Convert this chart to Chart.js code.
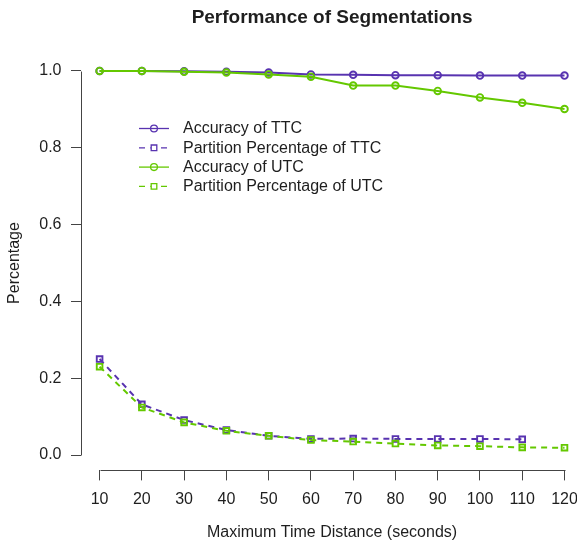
<!DOCTYPE html>
<html>
<head>
<meta charset="utf-8">
<script src="https://cdn.jsdelivr.net/npm/chart.js@4/dist/chart.umd.min.js"></script>
<style>
html,body{margin:0;padding:0;background:#fff;overflow:hidden;}
canvas{display:block;}
</style>
</head>
<body>
<canvas id="c" width="589" height="547"></canvas>
<script>
const distances = [10, 20, 30, 40, 50, 60, 70, 80, 90, 100, 110, 120];
const accuracyTTC = [1.000, 1.000, 0.999, 0.998, 0.996, 0.991, 0.990, 0.989, 0.989, 0.988, 0.988, 0.988];
const partitionTTC = [0.250, 0.132, 0.091, 0.065, 0.050, 0.042, 0.043, 0.042, 0.042, 0.042, 0.041];
const accuracyUTC = [1.000, 1.000, 0.998, 0.996, 0.991, 0.985, 0.962, 0.962, 0.948, 0.931, 0.917, 0.901];
const partitionUTC = [0.230, 0.124, 0.085, 0.063, 0.050, 0.039, 0.035, 0.030, 0.025, 0.023, 0.020, 0.019];
const xTicks = [10, 20, 30, 40, 50, 60, 70, 80, 90, 100, 110, 120];
const yTicks = [0.0, 0.2, 0.4, 0.6, 0.8, 1.0];
const seriesNames = ['Accuracy of TTC', 'Partition Percentage of TTC', 'Accuracy of UTC', 'Partition Percentage of UTC'];
const chartTitle = 'Performance of Segmentations';
const xTitle = 'Maximum Time Distance (seconds)';
const yTitle = 'Percentage';

const PURPLE = '#5833b0';
const GREEN = '#64c800';
const AXIS = '#444';
const TEXT = '#1e1e1e';
const FONT = "'Liberation Sans', Arial, Helvetica, sans-serif";

function pts(vals){ return vals.map((v,i)=>({x: distances[i], y: v})); }

function ds(label, vals, color, dashed, order){
  return {
    label, data: pts(vals), borderColor: color, backgroundColor: 'transparent',
    borderWidth: 2, borderDash: dashed ? [6,5] : [],
    pointStyle: dashed ? 'rect' : 'circle',
    pointRadius: dashed ? 4 : 3.3, pointBorderWidth: 1.9,
    pointBorderColor: color, pointBackgroundColor: 'transparent',
    tension: 0, fill: false, order
  };
}

function noPad(s){ s.paddingLeft = 0; s.paddingRight = 0; s.paddingTop = 0; s.paddingBottom = 0; }

const rPlugin = {
  id: 'rstyle',
  beforeDatasetsDraw(chart){
    const ctx = chart.ctx, xs = chart.scales.x, ys = chart.scales.y;
    ctx.save();
    ctx.strokeStyle = AXIS; ctx.lineWidth = 1;
    const yb = Math.round(ys.bottom) + 0.5;
    ctx.beginPath();
    ctx.moveTo(Math.round(xs.getPixelForValue(xTicks[0]))+0.5, yb);
    ctx.lineTo(Math.round(xs.getPixelForValue(xTicks[xTicks.length-1]))+0.5, yb);
    const xl = Math.round(xs.left) + 0.5;
    ctx.moveTo(xl, Math.round(ys.getPixelForValue(yTicks[0]))+0.5);
    ctx.lineTo(xl, Math.round(ys.getPixelForValue(yTicks[yTicks.length-1]))+0.5);
    ctx.stroke();
    ctx.restore();
  },
  afterDraw(chart){
    const ctx = chart.ctx, xs = chart.scales.x;
    const cx = xs.getPixelForValue((xTicks[0] + xTicks[xTicks.length-1]) / 2);
    ctx.save();
    ctx.fillStyle = TEXT;
    ctx.font = "bold 19px " + FONT;
    ctx.textAlign = 'center'; ctx.textBaseline = 'alphabetic';
    ctx.fillText(chartTitle, cx, 23);
    const x0 = 139, x1 = 169, xm = 154, xt = 183, y0 = 128.5, dy = 19.3;
    ctx.font = "16px " + FONT;
    ctx.textAlign = 'left'; ctx.textBaseline = 'middle';
    chart.data.datasets.forEach((d, i) => {
      const y = y0 + i*dy;
      ctx.strokeStyle = d.borderColor; ctx.lineWidth = 1.3;
      ctx.setLineDash(d.borderDash);
      ctx.beginPath(); ctx.moveTo(x0, y); ctx.lineTo(x1, y); ctx.stroke();
      ctx.setLineDash([]);
      ctx.beginPath();
      if (d.pointStyle === 'rect') {
        ctx.fillStyle = '#fff';
        ctx.rect(xm-3.3, y-3.3, 6.6, 6.6); ctx.fill();
        ctx.beginPath(); ctx.rect(xm-2.8, y-2.8, 5.6, 5.6);
      } else {
        ctx.arc(xm, y, 3.4, 0, Math.PI*2);
      }
      ctx.stroke();
      ctx.fillStyle = TEXT;
      ctx.fillText(seriesNames[i], xt, y + 0.5);
    });
    ctx.restore();
  }
};

new Chart(document.getElementById('c'), {
  type: 'line',
  data: {
    datasets: [
      ds(seriesNames[0], accuracyTTC, PURPLE, false, 3),
      ds(seriesNames[1], partitionTTC, PURPLE, true, 2),
      ds(seriesNames[2], accuracyUTC, GREEN, false, 1),
      ds(seriesNames[3], partitionUTC, GREEN, true, 0)
    ]
  },
  options: {
    responsive: false, animation: false, devicePixelRatio: 1,
    layout: { padding: { top: 55.6, right: 1.4, left: 0, bottom: 0 } },
    plugins: { legend: { display: false }, title: { display: false }, tooltip: { enabled: false } },
    scales: {
      x: {
        type: 'linear', min: 5.6, max: 124.4,
        afterBuildTicks: s => { s.ticks = xTicks.map(v => ({ value: v })); },
        afterFit: s => { s.height = 76.6; noPad(s); },
        border: { display: false },
        grid: { display: true, drawOnChartArea: false, drawTicks: true, tickLength: 10, color: AXIS, lineWidth: 1 },
        ticks: { color: TEXT, font: { family: FONT, size: 16 }, padding: 10, maxRotation: 0, autoSkip: false,
                 callback: v => String(v) },
        title: { display: true, text: xTitle, color: TEXT, font: { family: FONT, size: 16 }, padding: { top: 0, bottom: 5 } }
      },
      y: {
        type: 'linear', min: -0.04, max: 1.04,
        afterBuildTicks: s => { s.ticks = yTicks.map(v => ({ value: v })); },
        afterFit: s => { s.width = 81; noPad(s); },
        border: { display: false },
        grid: { display: true, drawOnChartArea: false, drawTicks: true, tickLength: 10, color: AXIS, lineWidth: 1 },
        ticks: { color: TEXT, font: { family: FONT, size: 16 }, padding: 9.5, autoSkip: false,
                 callback: v => Number(v).toFixed(1) },
        title: { display: true, text: yTitle, color: TEXT, font: { family: FONT, size: 16 }, padding: { top: 5, bottom: 0 } }
      }
    }
  },
  plugins: [rPlugin]
});
</script>
</body>
</html>
